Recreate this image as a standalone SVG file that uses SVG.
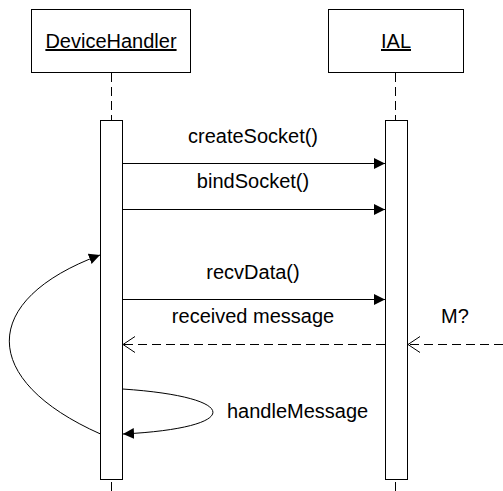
<svg xmlns="http://www.w3.org/2000/svg" width="503" height="491" viewBox="0 0 503 491">
<style>
text{font-family:"Liberation Sans",Arial,sans-serif;font-size:20px;fill:#000}
.box{fill:#fff;stroke:#000;stroke-width:1}
.life{stroke:#000;stroke-width:1;stroke-dasharray:9,5;fill:none}
.msg{stroke:#000;stroke-width:1;fill:none}
.ret{stroke:#000;stroke-width:1;fill:none;stroke-dasharray:9,5}
</style>
<defs>
<marker id="filled" markerUnits="userSpaceOnUse" markerWidth="12" markerHeight="12" refX="11" refY="5.5" orient="auto">
<path d="M0,0 L11,5.5 L0,11 z" fill="#000"/>
</marker>
<marker id="open" markerUnits="userSpaceOnUse" markerWidth="14" markerHeight="18" refX="12.5" refY="8.5" orient="auto" overflow="visible">
<path d="M0.5,0.5 L12.5,8.5 L0.5,16.5" fill="none" stroke="#000" stroke-width="1"/>
</marker>
</defs>
<g id="lifelines">
<line class="life" x1="111.5" y1="73" x2="111.5" y2="120"/>
<line class="life" x1="111.5" y1="482" x2="111.5" y2="491"/>
<line class="life" x1="395.5" y1="73" x2="395.5" y2="120"/>
<line class="life" x1="395.5" y1="482" x2="395.5" y2="491"/>
</g>
<g id="DeviceHandler">
<rect class="box" x="31.5" y="9.5" width="159" height="63"/>
<text x="111" y="48" text-anchor="middle" text-decoration="underline">DeviceHandler</text>
<rect class="box" x="100.5" y="120.5" width="22" height="359"/>
</g>
<g id="IAL">
<rect class="box" x="328.5" y="9.5" width="135" height="63"/>
<text x="396" y="48" text-anchor="middle" text-decoration="underline">IAL</text>
<rect class="box" x="385.5" y="120.5" width="22" height="359"/>
</g>
<g id="connectors">
<line class="msg" x1="122.5" y1="163.5" x2="385" y2="163.5" marker-end="url(#filled)"/>
<line class="msg" x1="122.5" y1="209.5" x2="385" y2="209.5" marker-end="url(#filled)"/>
<line class="msg" x1="122.5" y1="299.5" x2="385" y2="299.5" marker-end="url(#filled)"/>
<line class="ret" x1="385" y1="344.5" x2="123" y2="344.5" marker-end="url(#open)"/>
<line class="ret" x1="503" y1="344.5" x2="408" y2="344.5" marker-end="url(#open)"/>
<path class="msg" d="M122.5,389 C243,397 243,428 123,434" marker-end="url(#filled)"/>
<path class="msg" d="M100.5,434 C-21,380 -21,300 100,255" marker-end="url(#filled)"/>
</g>
<g id="labels">
<text x="253" y="143" text-anchor="middle">createSocket()</text>
<text x="253" y="188" text-anchor="middle">bindSocket()</text>
<text x="253" y="279" text-anchor="middle">recvData()</text>
<text x="253" y="323" text-anchor="middle">received message</text>
<text x="455" y="323" text-anchor="middle">M?</text>
<text x="227" y="418">handleMessage</text>
</g>
</svg>
